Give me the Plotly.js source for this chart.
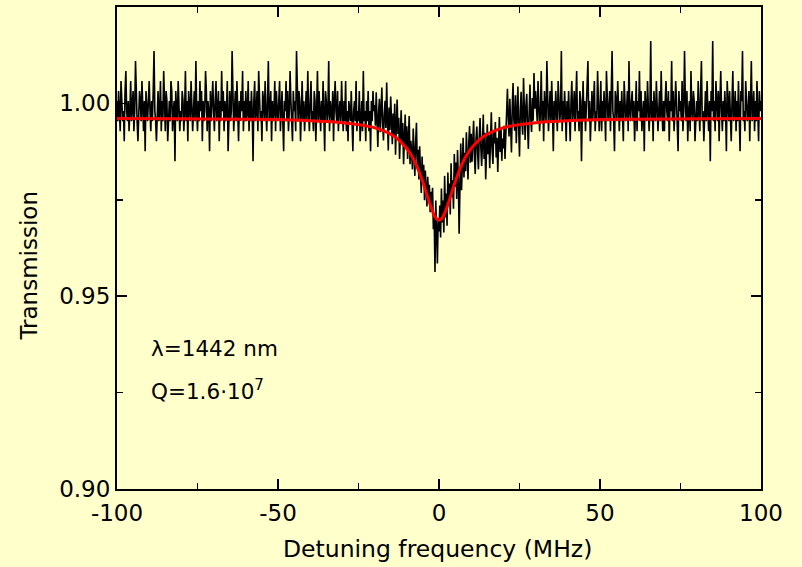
<!DOCTYPE html>
<html>
<head>
<meta charset="utf-8">
<script src="https://cdn.plot.ly/plotly-3.0.1.min.js"></script>
<style>html,body{margin:0;padding:0;background:#FFFFCC;}#chart{width:802px;height:567px;}</style>
</head>
<body>
<div id="chart"></div>
<script>
// Measured trace: detuning grid start and step (MHz)
const detuningStart = -100;
const detuningStep = 0.25;

// Measured transmission, one value per grid point (-100 ... 100 MHz), 40 values per 10 MHz row
const transmission = [
1.0006,0.9954,1.0032,0.9980,0.9928,1.0058,1.0006,0.9954,0.9980,0.9902,1.0032,1.0084,0.9980,0.9954,1.0006,0.9928,0.9980,1.0058,0.9954,1.0006,1.0032,0.9928,0.9980,1.0110,1.0006,0.9954,0.9902,0.9980,1.0032,1.0006,0.9954,1.0058,0.9980,0.9928,1.0006,0.9876,1.0032,0.9980,0.9954,1.0006,
1.0058,0.9980,0.9928,1.0006,0.9954,1.0032,1.0136,0.9980,0.9954,0.9902,1.0006,1.0032,0.9954,0.9980,1.0058,0.9928,1.0006,0.9954,1.0084,0.9980,0.9928,1.0032,1.0006,0.9902,0.9980,1.0006,0.9954,1.0058,1.0032,0.9928,0.9980,1.0006,0.9850,1.0032,0.9980,0.9954,1.0058,1.0006,0.9928,0.9980,
0.9954,1.0032,1.0006,0.9928,0.9980,1.0084,0.9954,1.0006,0.9902,1.0032,0.9980,0.9954,1.0058,1.0006,0.9928,0.9980,1.0032,0.9954,1.0110,0.9980,0.9928,1.0006,0.9954,1.0058,0.9980,1.0032,0.9902,1.0006,0.9954,0.9980,1.0084,1.0032,0.9928,1.0006,0.9980,0.9876,1.0032,0.9954,1.0006,1.0058,
0.9980,0.9928,1.0006,1.0058,0.9954,0.9980,1.0032,0.9902,1.0006,0.9954,1.0084,0.9980,1.0032,0.9928,1.0006,0.9954,0.9980,1.0058,0.9876,1.0006,1.0032,0.9954,0.9980,1.0136,1.0006,0.9928,0.9980,1.0032,0.9954,1.0058,0.9980,0.9902,1.0006,0.9954,1.0032,0.9980,1.0084,0.9928,1.0006,0.9954,
1.0032,0.9954,0.9980,1.0058,0.9928,1.0006,0.9954,1.0032,0.9980,0.9850,1.0006,1.0058,0.9954,0.9980,1.0032,0.9928,1.0084,1.0006,0.9954,0.9980,0.9902,1.0032,1.0006,0.9954,1.0058,0.9980,0.9928,1.0006,1.0110,0.9954,0.9980,1.0032,0.9902,1.0006,0.9954,0.9980,1.0058,0.9928,1.0032,0.9980,
0.9954,1.0006,1.0058,0.9928,0.9980,1.0032,0.9954,0.9876,1.0006,0.9980,1.0058,0.9954,1.0032,0.9928,0.9980,1.0084,1.0006,0.9954,0.9902,1.0032,0.9980,1.0006,0.9928,1.0136,0.9980,0.9954,1.0032,1.0006,0.9902,0.9980,1.0058,0.9954,1.0006,0.9928,0.9980,1.0032,0.9954,1.0084,0.9980,0.9928,
1.0006,1.0058,0.9954,0.9980,0.9928,1.0032,1.0006,0.9902,0.9980,1.0084,0.9954,1.0032,0.9980,0.9928,1.0006,0.9954,1.0058,0.9980,0.9876,1.0032,1.0006,0.9954,0.9980,1.0110,0.9928,1.0006,0.9980,0.9954,1.0032,0.9902,1.0006,1.0058,0.9980,0.9954,1.0032,0.9928,0.9980,1.0006,0.9954,1.0058,
0.9980,0.9928,1.0006,0.9954,1.0058,0.9928,0.9980,0.9902,1.0006,0.9980,0.9954,1.0032,0.9928,0.9876,0.9980,1.0006,0.9954,1.0058,0.9928,0.9980,0.9954,1.0032,0.9902,0.9980,1.0006,0.9928,1.0084,0.9954,0.9980,0.9902,1.0006,0.9954,1.0032,0.9928,0.9980,0.9876,1.0006,0.9954,1.0032,0.9980,
0.9996,0.9942,1.0029,0.9961,0.9887,0.9978,1.0012,0.9925,0.9983,1.0041,0.9948,0.9904,0.9970,1.0007,0.9936,1.0054,0.9957,0.9878,0.9989,0.9931,1.0018,0.9952,0.9894,0.9974,0.9916,0.9999,0.9867,0.9945,1.0010,0.9921,0.9963,0.9856,0.9940,0.9982,0.9899,0.9949,0.9842,0.9928,0.9971,0.9881,
0.9941,0.9856,0.9918,0.9967,0.9842,0.9903,0.9874,0.9829,0.9935,0.9861,0.9812,0.9898,0.9950,0.9835,0.9880,0.9803,0.9889,0.9817,0.9768,0.9862,0.9794,0.9841,0.9749,0.9826,0.9772,0.9733,0.9810,0.9757,0.9789,0.9718,0.9771,0.9736,0.9781,0.9674,0.9712,0.9563,0.9748,0.9659,0.9585,0.9703,
0.9668,0.9735,0.9652,0.9779,0.9691,0.9748,0.9665,0.9812,0.9704,0.9766,0.9683,0.9821,0.9739,0.9792,0.9712,0.9845,0.9758,0.9801,0.9727,0.9869,0.9783,0.9847,0.9752,0.9879,0.9806,0.9662,0.9838,0.9896,0.9775,0.9853,0.9911,0.9808,0.9872,0.9824,0.9925,0.9859,0.9803,0.9897,0.9941,0.9846,
0.9921,0.9849,0.9892,0.9955,0.9863,0.9817,0.9908,0.9940,0.9871,0.9829,0.9913,0.9962,0.9885,0.9838,0.9899,0.9971,0.9856,0.9924,0.9803,0.9887,0.9946,0.9868,0.9918,0.9832,0.9905,0.9977,0.9879,0.9843,0.9931,0.9896,0.9952,0.9860,0.9911,0.9822,0.9894,0.9965,0.9874,0.9936,0.9851,0.9909,
0.9883,0.9942,0.9856,0.9918,0.9987,1.0038,0.9961,0.9914,1.0012,0.9946,0.9873,0.9990,1.0053,0.9958,0.9929,1.0021,0.9897,0.9970,1.0044,0.9938,0.9862,0.9983,1.0030,0.9951,0.9919,1.0066,0.9967,0.9905,0.9995,1.0025,0.9942,0.9882,0.9976,1.0049,0.9960,0.9926,1.0014,0.9955,1.0079,0.9986,
1.0032,0.9980,0.9954,1.0058,1.0006,0.9928,0.9980,1.0084,0.9954,1.0006,0.9902,1.0032,0.9980,0.9954,1.0110,1.0006,0.9928,0.9980,1.0032,0.9954,1.0058,0.9980,0.9876,1.0006,0.9954,1.0032,0.9980,0.9928,1.0058,1.0006,0.9954,0.9980,1.0136,0.9928,1.0006,0.9954,1.0032,0.9980,0.9902,1.0006,
0.9954,1.0032,0.9980,0.9902,1.0006,1.0058,0.9954,0.9980,1.0032,0.9928,1.0006,1.0084,0.9954,0.9980,0.9928,1.0032,1.0006,0.9850,0.9980,1.0058,0.9954,1.0006,0.9928,0.9980,1.0032,1.0110,0.9954,1.0006,0.9902,0.9980,1.0032,0.9954,1.0006,1.0058,0.9928,0.9980,0.9954,1.0084,1.0006,0.9928,
0.9980,1.0058,0.9928,1.0006,0.9954,1.0032,0.9980,0.9902,1.0084,1.0006,0.9954,0.9980,1.0032,0.9928,1.0006,1.0136,0.9980,0.9954,0.9876,1.0032,1.0006,0.9954,1.0058,0.9980,0.9928,1.0006,0.9954,1.0032,0.9980,0.9902,1.0058,1.0006,0.9954,0.9980,1.0032,0.9928,1.0110,0.9980,0.9954,1.0006,
1.0032,0.9954,1.0006,0.9902,0.9980,1.0058,0.9928,1.0006,0.9980,1.0084,0.9954,1.0032,0.9928,0.9980,1.0006,0.9876,1.0032,0.9980,0.9954,1.0058,1.0006,0.9928,0.9980,1.0162,0.9954,1.0006,0.9902,1.0032,0.9980,0.9954,1.0058,1.0006,0.9928,0.9980,1.0032,0.9954,1.0084,0.9980,0.9928,1.0006,
0.9928,1.0006,1.0058,0.9980,0.9954,1.0032,0.9902,1.0006,0.9980,1.0110,0.9954,1.0032,0.9928,0.9980,1.0058,1.0006,0.9954,0.9876,1.0032,0.9980,1.0006,0.9954,1.0058,0.9928,0.9980,1.0136,1.0006,0.9954,1.0032,0.9902,0.9980,1.0006,0.9928,1.0084,0.9980,0.9954,1.0032,1.0006,0.9902,0.9980,
1.0006,0.9954,1.0058,0.9980,0.9928,1.0032,1.0110,0.9954,0.9980,0.9902,1.0006,1.0032,0.9954,1.0058,0.9980,0.9928,1.0006,0.9850,1.0032,0.9980,1.0162,0.9954,1.0006,0.9928,1.0058,0.9980,0.9954,1.0032,0.9902,1.0006,1.0084,0.9980,0.9928,1.0006,0.9954,1.0032,0.9980,0.9876,1.0058,1.0006,
0.9954,1.0032,0.9980,0.9902,1.0006,1.0084,0.9954,0.9980,1.0032,0.9928,1.0006,0.9954,1.0058,0.9980,0.9876,1.0032,1.0006,1.0136,0.9954,0.9980,0.9928,1.0058,1.0006,0.9954,0.9980,1.0032,0.9902,1.0006,1.0110,0.9954,0.9980,1.0032,0.9928,1.0006,0.9954,1.0058,0.9980,0.9902,1.0032,0.9980,
1.0006
];

// Fitted curve
const fitDetuning = [-100,-80,-60,-50,-40,-35,-30,-25,-20,-17,-15,-13,-11,-10,-9,-8,-7,-6,-5,-4,-3,-2,-1,0,1,2,3,4,5,6,7,8,9,10,11,13,15,17,20,25,30,35,40,50,60,80,100];
const fitTransmission = [0.9961,0.9960,0.9959,0.9958,0.9955,0.9953,0.9950,0.9945,0.9937,0.9928,0.9920,0.9909,0.9893,0.9883,0.9871,0.9857,0.9839,0.9819,0.9796,0.9770,0.9744,0.9720,0.9703,0.9697,0.9703,0.9720,0.9744,0.9770,0.9796,0.9819,0.9839,0.9857,0.9871,0.9883,0.9893,0.9909,0.9920,0.9928,0.9937,0.9945,0.9950,0.9953,0.9955,0.9958,0.9959,0.9960,0.9961];

const xTickVals = [-100,-50,0,50,100];
const xTickText = ['-100','-50','0','50','100'];
const yTickVals = [0.90,0.95,1.00];
const yTickText = ['0.90','0.95','1.00'];

const xTitle = 'Detuning frequency (MHz)';
const yTitle = 'Transmission';
const noteWavelength = 'λ=1442 nm';
const noteQ = 'Q=1.6·10<sup>7</sup>';

const FONT = 'DejaVu Sans, Verdana, sans-serif';
const BG = '#FFFFCC';

const traces = [
  {type:'scatter', mode:'lines', x0:detuningStart, dx:detuningStep, y:transmission,
   line:{color:'#000000', width:1.6}, hoverinfo:'skip', showlegend:false},
  {type:'scatter', mode:'lines', x:fitDetuning, y:fitTransmission, line:{color:'#FF0000', width:3, shape:'spline'}, showlegend:false}
];

const axisCommon = {
  showline:true, linecolor:'#000', linewidth:2, mirror:'ticks', ticks:'inside', ticklen:10, tickwidth:1.5, tickcolor:'#000',
  showgrid:false, zeroline:false, tickfont:{family:FONT, size:23, color:'#000'}
};

const layout = {
  width:802, height:567,
  paper_bgcolor:BG, plot_bgcolor:BG,
  margin:{l:117, r:41, t:7, b:78},
  font:{family:FONT, color:'#000'},
  xaxis:Object.assign({}, axisCommon, {
    range:[-100,100], tickvals:xTickVals, ticktext:xTickText, ticklabelstandoff:2,
    minor:{dtick:25, tick0:0, ticks:'inside', ticklen:6, tickcolor:'#000', tickwidth:1.5}
  }),
  yaxis:Object.assign({}, axisCommon, {
    range:[0.90,1.025], tickvals:yTickVals, ticktext:yTickText,
    minor:{dtick:0.025, tick0:0.9, ticks:'inside', ticklen:6, tickcolor:'#000', tickwidth:1.5}
  }),
  annotations:[
    {xref:'paper', yref:'paper', x:0.497, y:-0.124, xanchor:'center', yanchor:'middle', showarrow:false,
     text:xTitle, font:{family:FONT, size:23.5, color:'#000'}},
    {xref:'paper', yref:'paper', x:-0.137, y:0.463, xanchor:'center', yanchor:'middle', showarrow:false, textangle:-90,
     text:yTitle, font:{family:FONT, size:23, color:'#000'}},
    {xref:'paper', yref:'paper', x:0.05, y:0.2925, xanchor:'left', yanchor:'middle', showarrow:false,
     text:noteWavelength, font:{family:FONT, size:21.5, color:'#000'}},
    {xref:'paper', yref:'paper', x:0.05, y:0.205, xanchor:'left', yanchor:'middle', showarrow:false,
     text:noteQ, font:{family:FONT, size:21.5, color:'#000'}}
  ]
};

Plotly.newPlot('chart', traces, layout, {displayModeBar:false, staticPlot:true});
</script>
</body>
</html>
